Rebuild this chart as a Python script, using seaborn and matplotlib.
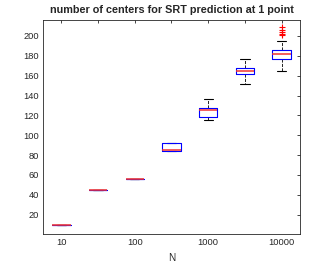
import pandas as pd
import matplotlib
matplotlib.use("Agg")
import matplotlib.pyplot as plt
import seaborn as sns

# --- values (five-number summary per N) ---
n_labels = ["10", "31.6", "100", "316", "1000", "3162", "10000"]
shown_labels = ["10", "", "100", "", "1000", "", "10000"]
whisker_low = [10, 45, 56, 84, 115, 152, 165]
quart_1 = [10, 45, 56, 84, 118, 161.5, 177]
medians = [10, 45, 56, 85, 125, 164.5, 182]
quart_3 = [10, 45, 56, 92, 127, 168, 186]
whisker_high = [10, 45, 56, 92, 136, 177, 195]
outliers = [[], [], [], [], [], [], [200.5, 202, 204, 206, 208.5]]

# rebuild a sample per group that gives exactly these quartiles
rows = []
for lab, lo, a, m, b, hi, fl in zip(n_labels, whisker_low, quart_1, medians,
                                    quart_3, whisker_high, outliers):
    k = len(fl) + 1
    vals = [lo] * k + [a] * k + [m] + [b] * k + [hi] * (k - len(fl)) + fl
    rows += [(lab, v) for v in vals]
df = pd.DataFrame(rows, columns=["N", "centers"])

sns.set_style("white")
plt.rcParams["font.family"] = ["Liberation Sans", "DejaVu Sans"]

fig = plt.figure(figsize=(3.32, 2.66), dpi=100)
ax = fig.add_axes([0.1295, 0.1203, 0.7741, 0.8045])

sns.boxplot(data=df, x="N", y="centers", order=n_labels, width=0.5,
            fill=False, whis=1.5, linewidth=0.8, ax=ax,
            boxprops=dict(color="blue", zorder=3),
            medianprops=dict(color="#f03030", linewidth=1.1, zorder=4),
            whiskerprops=dict(color="black", linestyle="--", linewidth=0.6,
                              zorder=2),
            capprops=dict(color="black", linewidth=0.8, zorder=2),
            flierprops=dict(marker="+", markeredgecolor="red",
                            markerfacecolor="none", markersize=4,
                            markeredgewidth=0.8, zorder=4))

ax.set_xlim(-0.5, 6.5)
ax.set_ylim(0.6, 216)
ax.set_yticks(range(20, 201, 20))
ax.set_xticks(range(len(n_labels)))
ax.set_xticklabels(shown_labels)
ax.set_xlabel("N", fontsize=7.2, color="#262626", labelpad=4)
ax.set_ylabel("")
ax.set_title("number of centers for SRT prediction at 1 point",
             fontsize=7.8, fontweight="bold", pad=5)

ax.tick_params(direction="in", length=2.5, width=0.6, colors="#262626",
               labelsize=6.7, top=True, right=True, pad=3)
for sp in ax.spines.values():
    sp.set_visible(True)
    sp.set_color("#262626")
    sp.set_linewidth(0.6)

fig.savefig("out.png", dpi=100)
